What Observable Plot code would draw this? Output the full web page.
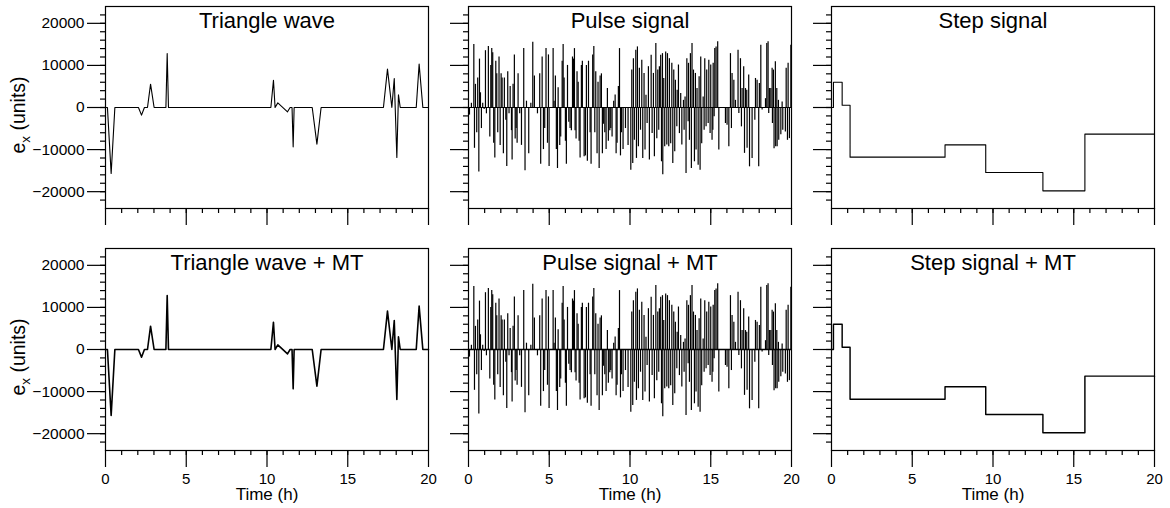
<!DOCTYPE html>
<html>
<head>
<meta charset="utf-8">
<script src="https://cdn.jsdelivr.net/npm/d3@7"></script>
<script src="https://cdn.jsdelivr.net/npm/@observablehq/plot@0.6"></script>
<style>
  html, body { margin: 0; padding: 0; background: white; }
  #chart { position: relative; width: 1170px; height: 508px; background: white; overflow: hidden; }
  .panel { position: absolute; }
</style>
</head>
<body>
<div id="chart"></div>
<script>
// ---------- data ----------
const titles = ["Triangle wave", "Pulse signal", "Step signal",
                "Triangle wave + MT", "Pulse signal + MT", "Step signal + MT"];
const xMajorTicks = [0, 5, 10, 15, 20];
const yMajorTicks = [-20000, -10000, 0, 10000, 20000];
const xLabel = "Time (h)";

// triangle wave (time in h, value in units)
const triT = [0, 0.12, 0.35, 0.58, 2.04, 2.23, 2.41, 2.60, 2.79, 3.01, 3.74, 3.82, 3.90,
              10.24, 10.40, 10.50, 10.67, 11.27, 11.43, 11.55, 11.62, 11.68,
              12.80, 13.09, 13.35, 17.21, 17.46, 17.73, 17.88, 18.04, 18.14, 18.25,
              19.24, 19.42, 19.65, 20];
const triV = [0, 0, -15680, 0, 0, -1820, 0, 0, 5540, 0, 0, 12830, 0,
              0, 6490, 0, 1100, -1030, 0, 0, -9350, 0,
              0, -8710, 0, 0, 9110, 0, 6890, -11880, 3010, 0,
              0, 10300, 0, 0];

// step signal
const stepT = [0, 0.12, 0.66, 1.15, 7.03, 9.55, 13.09, 15.69, 20];
const stepV = [0, 6000, 550, -11800, -8870, -15440, -19800, -6330, -6330];

// pulse signal: pulse times (h) and amplitudes (units)
const pulseT = [
  0.06,0.18,0.33,0.37,0.43, 0.51,0.57,0.64,0.68,0.74, 0.80,0.88,0.97,1.05,1.11, 1.23,1.32,1.38,1.44,1.50,
  1.56,1.63,1.69,1.75,1.81, 1.89,1.96,2.02,2.08,2.16, 2.22,2.31,2.37,2.43,2.51, 2.58,2.66,2.70,2.76,2.84,
  2.89,2.95,3.01,3.07,3.17, 3.28,3.42,3.50,3.59,3.73, 3.86,3.98,4.08,4.27,4.41, 4.47,4.56,4.64,4.72,4.80, 4.89,
  4.95,4.99,5.24,5.30,5.38, 5.44,5.51,5.55,5.65,5.71, 5.80,5.86,5.92,6.00,6.06, 6.13,6.21,6.29,6.37,6.44,
  6.50,6.56,6.60,6.66,6.72, 6.79,6.85,6.91,6.99,7.05, 7.16,7.24,7.30,7.36,7.43, 7.53,7.59,7.69,7.76,7.82,
  7.88,7.96,8.02,8.09,8.15, 8.23,8.29,8.35,8.44,8.52, 8.60,8.66,8.75,8.81,8.89, 8.99,9.08,9.14,9.20,9.28,
  9.35,9.41,9.47,9.57,9.72, 9.88,
  10.05,10.11,10.17,10.21,10.27, 10.36,10.40,10.46,10.52,10.58, 10.65,10.73,10.79,10.87,10.93, 10.99,11.06,11.14,11.20,11.31,
  11.37,11.45,11.51,11.60,11.66, 11.72,11.78,11.82,11.90,11.95, 12.01,12.03,12.09,12.15,12.21, 12.28,12.32,12.40,12.44,12.52,
  12.59,12.65,12.71,12.77,12.81, 12.90,12.92,13.00,13.06,13.14, 13.21,13.31,13.35,13.41,13.47, 13.52,13.60,13.62,13.68,13.74,
  13.80,13.84,13.93,13.99,14.05, 14.09,14.15,14.22,14.28,14.34, 14.38,14.44,14.53,14.59,14.63, 14.71,14.75,14.84,14.88,14.96,
  15.00,15.08,
  15.13,15.15,15.21,15.25,15.33, 15.43,15.50,15.91,16.01,16.12, 16.22,16.28,16.32,16.43,16.53, 16.69,16.74,16.84,16.90,16.94,
  17.04,17.09,17.15,17.23,17.25, 17.35,17.40,17.56,17.73,17.77, 17.87,17.97,18.01,18.10,18.18, 18.39,18.47,18.55,18.59,18.63,
  18.72,18.80,18.82,18.88,18.92, 19.00,19.02,19.09,19.11,19.19, 19.21,19.34,19.42,19.46,19.62, 19.67,19.75,19.79,19.87,19.96
];
const pulseV = [
  -1800,1000,15000,-9700,5500, -6000,7000,-15300,11500,3500, -5000,1000,-500,13500,-1500, 14500,-7000,10000,14000,13000,
  -8500,-12000,11000,8000,-6000, 12000,-9000,8000,7000,-11000, 7000,-3000,-14000,8500,-1500, 5000,-5500,-12500,5500,12500,
  -7500,-5000,-8500,8000,-1500, -9000,14000,-15000,1500,-11000, 1000,15500,7500,-1500,8000, -13500,12000,-10000,-5000,14000, -8500,
  12500,-14000,14000,1500,7500, -10000,-14500,4700,-9000,-7000, 11000,15000,7000,-8000,-13500, 10000,-3500,-5000,-5500,12000,
  11500,14000,-5500,-7500,8500, 6000,-8000,-12000,10000,11000, -11700,-11500,10000,-12800,11000, -6000,-13500,12500,14500,-6000,
  8500,-11000,6000,-14500,7500, 8000,-11000,-4000,-6000,-10000, 4500,-8000,-5500,-5000,-7000, 1500,3000,-11000,-8500,5000,
  14000,-11500,-6000,-10000,-5000, -9000,
  -14900,8900,-13300,11600,-7800, 13600,-12100,14400,-9300,9300, -5400,11200,-12100,8100,-10100, 2900,-3800,9700,-12500,12400,
  -6200,8100,-11700,15200,-7400, 8900,-5400,9700,12400,-12900, 12800,-16000,6900,-9300,13200, -8900,12800,-9300,11600,-8600,
  10500,-13300,8900,-10500,6500, -4600,4100,10100,-6200,3300, -8900,1700,-5400,2500,-15700, 11600,-3400,10500,-7800,12800,
  -14500,15200,8900,-12900,8100, -10100,4500,-13700,7300,-14900, 12000,-8600,2500,-5400,11600, -4600,8900,-3800,11200,-6200,
  10100,-7800,
  -5400,10500,-2200,14000,14400, 15600,-10100,-3800,-4200,-9300, 12800,-5000,8100,6500,1700, 13600,-1400,11600,-4600,4500,
  9700,-10900,4500,4100,-9700, 7700,-14100,-12100,-3000,6900, 6500,-14100,5700,14800,-600, 2100,15200,15600,-1400,4500,
  4500,9300,-3800,8900,-9800, 10900,-9300,4500,-9300,1700, -7800,-6500,1300,-5400,-5800, 9300,-7800,10500,-7400,14800
];

// ---------- layout ----------
const FONT = "'Liberation Sans', Arial, Helvetica, sans-serif";
const colFrameLeft = [105.3, 468.4, 830.7];
const rowFrameTop = [6, 248];
const ML = 100, MR = 12, MT = 6, MB = 58;
const FW = 323, FH = 202;
const W = FW + ML + MR, H = FH + MT + MB;

const tri = triT.map((t, i) => ({t, v: triV[i]}));
const step = stepT.map((t, i) => ({t, v: stepV[i]}));
const pulse = pulseT.map((t, i) => ({t, v: pulseV[i]}));

const fmt = d => d < 0 ? "\u2212" + Math.abs(d) : String(d);

function dataMarks(kind, row) {
  if (kind === 0) {
    return [Plot.line(tri, {x: "t", y: "v", stroke: "black", strokeWidth: row === 0 ? 1.1 : 1.6})];
  } else if (kind === 1) {
    return [
      Plot.ruleY([0], {stroke: "black", strokeWidth: row === 0 ? 1.1 : 1.5}),
      Plot.ruleX(pulse, {x: "t", y1: 0, y2: "v", stroke: "black", strokeWidth: 1.2})
    ];
  } else {
    return [Plot.line(step, {x: "t", y: "v", curve: "step-after", stroke: "black", strokeWidth: row === 0 ? 1.1 : 1.45})];
  }
}

const chart = document.getElementById("chart");

for (let row = 0; row < 2; row++) {
  for (let col = 0; col < 3; col++) {
    const showY = col === 0;
    const showX = row === 1;
    const plot = Plot.plot({
      width: W, height: H,
      marginLeft: ML, marginRight: MR, marginTop: MT, marginBottom: MB,
      style: {fontFamily: FONT, fontSize: "15px", background: "transparent", color: "black", overflow: "visible"},
      x: {domain: [0, 20]},
      y: {domain: [-24000, 24000]},
      marks: [
        ...dataMarks(col, row),
        Plot.axisY(d3.range(-22000, 22001, 2000), {anchor: "left", tickSize: 5, fill: "none", label: null, strokeWidth: 1.2}),
        Plot.axisY(yMajorTicks, {anchor: "left", tickSize: 18, tickPadding: 3, label: null, strokeWidth: 1.2,
                                  tickFormat: fmt, fill: showY ? "black" : "none", fontSize: 15.5}),
        Plot.axisX(d3.range(1, 20, 1), {anchor: "bottom", tickSize: 5, fill: "none", label: null, strokeWidth: 1.2}),
        Plot.axisX(xMajorTicks, {anchor: "bottom", tickSize: 17, tickPadding: 6, label: null, strokeWidth: 1.2,
                                  tickFormat: d => String(d), fill: showX ? "black" : "none", fontSize: 15}),
        Plot.frame({stroke: "black", strokeWidth: 1.2}),
        Plot.text([titles[row * 3 + col]], {frameAnchor: "top", lineAnchor: "top", dy: 6, fontSize: 22, fill: "black"}),
        showX ? Plot.text([xLabel], {frameAnchor: "bottom", lineAnchor: "middle", dy: 44, fontSize: 17, fill: "black"}) : null
      ]
    });
    const div = document.createElement("div");
    div.className = "panel";
    div.style.left = (colFrameLeft[col] - ML) + "px";
    div.style.top = (rowFrameTop[row] - MT) + "px";
    div.style.width = W + "px";
    div.style.height = H + "px";
    div.appendChild(plot);
    chart.appendChild(div);

    if (showY) {
      const svg = d3.select(plot);
      const t = svg.append("text")
        .attr("transform", `translate(${25 - (colFrameLeft[col] - ML)},${MT + 109}) rotate(-90)`)
        .attr("text-anchor", "middle")
        .attr("font-size", 19.5)
        .attr("font-family", FONT)
        .attr("fill", "black");
      t.append("tspan").text("e");
      t.append("tspan").attr("font-size", 13.5).attr("dy", 5).text("x");
      t.append("tspan").attr("dy", -5).text(" (units)");
    }
  }
}
</script>
</body>
</html>
